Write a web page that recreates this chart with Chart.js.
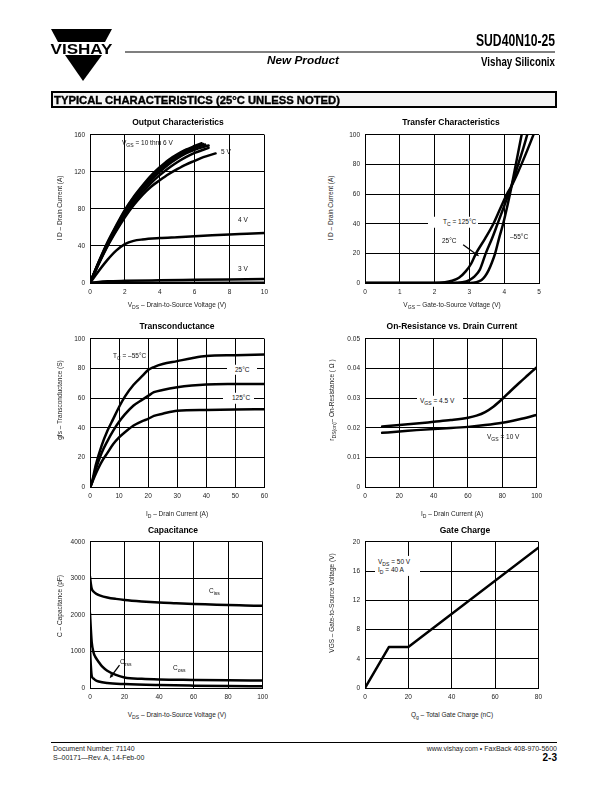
<!DOCTYPE html>
<html><head><meta charset="utf-8">
<script src="https://cdn.jsdelivr.net/npm/chart.js@4.4.0/dist/chart.umd.min.js"></script>
<style>
html,body{margin:0;padding:0;background:#fff;}
#page{position:relative;width:612px;height:792px;overflow:hidden;font-family:"Liberation Sans",Arial,Helvetica,sans-serif;color:#000;}
canvas{position:absolute;z-index:1;}
.abs{position:absolute;white-space:nowrap;z-index:2;line-height:1;}
.ttl{font-weight:bold;font-size:8.5px;transform:translate(-50%,-50%);}
.xt{font-size:6.5px;color:#222;transform:translate(-50%,-50%);}
.yt{font-size:6.5px;color:#222;transform:translate(-50%,-50%) rotate(-90deg);}
.lbl{font-size:6.5px;color:#111;transform:translateY(-50%);}
.box{background:#fff;}
sub{font-size:0.78em;vertical-align:-0.35em;line-height:0;}
</style></head>
<body><div id="page"></div>
<script>
// ---------- DATA ----------
// Output characteristics (VDS in V, ID in A)
const out10V_x=[0,0.5,1,1.5,2,2.5,3,3.5,4,4.5,5,5.5,6,6.4];
const out10V_y=[0,23,44,62,79,93,105,116,125,133,139,144,148,151];
const out9V_x=[0,0.5,1,1.5,2,2.5,3,3.5,4,4.5,5,5.5,6,6.5];
const out9V_y=[0,22.5,43,61,78,92,104,114.5,123.5,131.5,138,143.5,147,150];
const out8V_x=[0,0.5,1,1.5,2,2.5,3,3.5,4,4.5,5,5.5,6,6.6];
const out8V_y=[0,22,42,60,77,91,102.5,113,122,130,136.5,142,146,149.5];
const out7V_x=[0,0.5,1,1.5,2,2.5,3,3.5,4,4.5,5,5.5,6,6.8];
const out7V_y=[0,21.5,41,59,75,89,101,111,120,128,134.5,140,144,148.5];
const out6V_x=[0,0.5,1,1.5,2,2.5,3,3.5,4,4.5,5,5.5,6,6.8];
const out6V_y=[0,21,40.5,57.5,73,86.5,98,108,116.5,124,130.5,136,140.5,146];
const out5V_x=[0,0.5,1,1.5,2,2.5,3,3.5,4,4.5,5,5.5,6,6.5,7.2];
const out5V_y=[0,20.5,39.5,56,71,84,95,104,111,117.5,123,128,132,136,140];
const out4V_x=[0,0.5,1,1.5,2,2.5,3,4,5,6,7,8,9,10];
const out4V_y=[0,13,25,35,42,45.5,47,48.5,49.5,50.5,51.5,52.5,53.2,54];
const out3V_x=[0,0.5,1,2,4,6,8,10];
const out3V_y=[0,1.2,1.8,2.3,2.9,3.4,3.9,4.4];
const out2V_x=[0,10];
const out2V_y=[0,0.3];
const outTicksX={min:0,max:10,step:2}, outTicksY={min:0,max:160,step:40};

// Transfer characteristics (VGS in V, ID in A)
const trN55_x=[0,3.0,3.2,3.35,3.45,3.55,3.65,3.74,3.85,3.97,4.1,4.2,4.3,4.4,4.5];
const trN55_y=[0,0,0.5,2,4.5,8.5,14,20,30,40,53,64,76,88,100];
const tr25_x=[0,2.5,2.8,3.0,3.15,3.3,3.47,3.65,3.81,4.0,4.2,4.4,4.55,4.66];
const tr25_y=[0,0,0.5,2,4.5,9,20,30,40,52,65,80,91,100];
const tr125_x=[0,2.0,2.3,2.5,2.7,2.9,3.05,3.19,3.45,3.69,3.9,4.1,4.2,4.4,4.6,4.84];
const tr125_y=[0,0,0.5,1.5,3.5,8,13,20,30,40,51,61,65,75,86,100];
const trTicksX={min:0,max:5,step:1}, trTicksY={min:0,max:100,step:20};
const trArrow=[2.82,25.8,3.28,18];

// Transconductance (ID in A, gfs in S)
const gfsN55_x=[0,0.5,2,4,6,8,10,12,15,18,20,22,25,30,35,40,50,60];
const gfsN55_y=[0,2,15,28,38,46,54,61,69,75,79,81,83,85,87,88.5,89,89.5];
const gfs25_x=[0,0.5,2,4,6,8,10,12,15,18,20,22,25,30,35,40,50,60];
const gfs25_y=[0,2,12,23,31,38,44,49,55,59,61.5,64,65.5,67.3,68.5,69.2,69.5,69.6];
const gfs125_x=[0,0.5,2,4,6,8,10,12,15,18,20,22,25,30,40,50,60];
const gfs125_y=[0,2,9,17,23,29,33.5,37,41.5,44.5,46,48,49.5,51.5,52,52.3,52.5];
const gfsTicksX={min:0,max:60,step:10}, gfsTicksY={min:0,max:100,step:20};

// On-resistance (ID in A, rDS(on) in ohm)
const ron45_x=[10,20,30,40,50,60,65,70,75,80,85,90,95,100];
const ron45_y=[0.0204,0.0209,0.0214,0.0220,0.0226,0.0234,0.0241,0.0253,0.0272,0.0297,0.0325,0.0352,0.0378,0.0404];
const ron10_x=[10,20,30,40,50,60,70,80,90,100];
const ron10_y=[0.0183,0.0187,0.0192,0.0196,0.0199,0.0203,0.0209,0.0217,0.0229,0.0243];
const ronTicksX={min:0,max:100,step:20}, ronTicksY={min:0,max:0.05,step:0.01};

// Capacitance (VDS in V, C in pF)
const ciss_x=[0,0.5,1,2,4,6,10,15,20,30,40,50,60,70,80,90,100];
const ciss_y=[3050,2850,2720,2640,2570,2530,2480,2440,2410,2370,2340,2320,2300,2285,2270,2260,2250];
const coss_x=[0,0.5,1,2,3,5,7,10,15,20,30,40,60,80,100];
const coss_y=[2050,1600,1250,980,860,714,590,473,360,290,250,232,220,210,205];
const crss_x=[0,0.5,1,2,3,5,10,20,40,60,80,100];
const crss_y=[1050,600,330,260,220,178,135,107,80,65,55,48];
const capTicksX={min:0,max:100,step:20}, capTicksY={min:0,max:4000,step:1000};
const capArrow=[17.1,624,11.4,268];

// Gate charge (Qg in nC, VGS in V)
const gate_x=[0,11,20,80];
const gate_y=[0,5.6,5.6,19.2];
const gateTicksX={min:0,max:80,step:20}, gateTicksY={min:0,max:20,step:4};

// ---------- RENDER ----------
const FF='"Liberation Sans", Arial, sans-serif';
const page=document.getElementById('page');
function pts(xs,ys){return xs.map((x,i)=>({x:x,y:ys[i]}));}
function ln(xs,ys,mono){return {data:pts(xs,ys),borderColor:'#000',borderWidth:2.5,pointRadius:0,fill:false,
  cubicInterpolationMode:mono===false?'default':'monotone',tension:mono===false?0:0.4,borderCapStyle:'round',borderJoinStyle:'round'};}

const arrowPlugin={id:'arrows',afterDatasetsDraw(chart,args,opts){
  const list=opts.list||[];const ctx=chart.ctx;const sx=chart.scales.x,sy=chart.scales.y;
  list.forEach(a=>{
    const x1=sx.getPixelForValue(a[0]),y1=sy.getPixelForValue(a[1]),x2=sx.getPixelForValue(a[2]),y2=sy.getPixelForValue(a[3]);
    const ang=Math.atan2(y2-y1,x2-x1),h=4.5;
    ctx.save();ctx.strokeStyle='#000';ctx.fillStyle='#000';ctx.lineWidth=1.3;
    ctx.beginPath();ctx.moveTo(x1,y1);ctx.lineTo(x2-Math.cos(ang)*h*0.8,y2-Math.sin(ang)*h*0.8);ctx.stroke();
    ctx.beginPath();ctx.moveTo(x2,y2);
    ctx.lineTo(x2-h*Math.cos(ang-0.4),y2-h*Math.sin(ang-0.4));
    ctx.lineTo(x2-h*Math.cos(ang+0.4),y2-h*Math.sin(ang+0.4));ctx.closePath();ctx.fill();
    ctx.restore();
  });
}};

function axisOpts(t,fmt,isY){
  return {type:'linear',min:t.min,max:t.max,
    ticks:{stepSize:t.step,autoSkip:false,maxRotation:0,padding:5,color:'#222',font:{family:FF,size:6.5},callback:fmt||(v=>String(v))},
    grid:{color:'#000',lineWidth:1,drawTicks:false},
    border:{display:true,color:'#000',width:1},
    afterFit:isY?(s=>{s.width=30;}):(s=>{s.height=18;})};
}
function makeChart(r,tx,ty,datasets,arrows,yfmt){
  const c=document.createElement('canvas');
  const W=r.R-r.L+38,H=r.B-r.T+24;
  c.width=W;c.height=H;c.style.width=W+'px';c.style.height=H+'px';
  c.style.left=(r.L-30)+'px';c.style.top=(r.T-6)+'px';
  page.appendChild(c);
  new Chart(c,{type:'line',data:{datasets:datasets},
    options:{responsive:false,animation:false,devicePixelRatio:1,
      layout:{padding:{top:6,right:8,left:0,bottom:0}},
      plugins:{legend:{display:false},tooltip:{enabled:false},title:{display:false},arrows:{list:arrows||[]}},
      scales:{x:axisOpts(tx,null,false),y:axisOpts(ty,yfmt,true)}},
    plugins:[arrowPlugin]});
}
function txt(cls,html,x,y,extra){
  const d=document.createElement('div');d.className='abs '+cls;d.innerHTML=html;
  d.style.left=x+'px';d.style.top=y+'px';if(extra)d.style.cssText+=extra;page.appendChild(d);return d;
}

// Chart 1
makeChart({L:90,T:132,R:265,B:283},outTicksX,outTicksY,[
  ln(out10V_x,out10V_y),ln(out9V_x,out9V_y),ln(out8V_x,out8V_y),ln(out7V_x,out7V_y),ln(out6V_x,out6V_y),
  ln(out5V_x,out5V_y),ln(out4V_x,out4V_y),ln(out3V_x,out3V_y),ln(out2V_x,out2V_y)]);
// Chart 2
makeChart({L:365,T:132,R:539,B:283},trTicksX,trTicksY,[ln(trN55_x,trN55_y),ln(tr25_x,tr25_y),ln(tr125_x,tr125_y)],[trArrow]);
// Chart 3
makeChart({L:90,T:336,R:265,B:487},gfsTicksX,gfsTicksY,[ln(gfsN55_x,gfsN55_y),ln(gfs25_x,gfs25_y),ln(gfs125_x,gfs125_y)]);
// Chart 4
makeChart({L:365,T:336,R:539,B:487},ronTicksX,ronTicksY,[ln(ron45_x,ron45_y),ln(ron10_x,ron10_y)],[],v=>v===0?'0':v.toFixed(2));
// Chart 5
makeChart({L:90,T:539,R:265,B:688},capTicksX,capTicksY,[ln(ciss_x,ciss_y),ln(coss_x,coss_y),ln(crss_x,crss_y)],[capArrow]);
// Chart 6
makeChart({L:365,T:539,R:539,B:688},gateTicksX,gateTicksY,[ln(gate_x,gate_y,false)]);

// Titles
txt('ttl','Output Characteristics',178,121.5);
txt('ttl','Transfer Characteristics',451,121.5);
txt('ttl','Transconductance',177,326);
txt('ttl','On-Resistance vs. Drain Current',452,326);
txt('ttl','Capacitance',173,530);
txt('ttl','Gate Charge',465,529.5);
// Axis titles
txt('yt','I D – Drain Current (A)',60,208);
txt('yt','I D – Drain Current (A)',331,208);
txt('yt','gfs – Transconductance (S)',60,400);
txt('yt','r<sub>DS(on)</sub>– On-Resistance ( Ω )',332,400);
txt('yt','C – Capacitance (pF)',60,606);
txt('yt','VGS – Gate-to-Source Voltage (V)',332,603);
txt('xt','V<sub>DS</sub> – Drain-to-Source Voltage (V)',177,305);
txt('xt','V<sub>GS</sub> – Gate-to-Source Voltage (V)',452,305);
txt('xt','I<sub>D</sub> – Drain Current (A)',177,514);
txt('xt','I<sub>D</sub> – Drain Current (A)',452,514);
txt('xt','V<sub>DS</sub> – Drain-to-Source Voltage (V)',177,715);
txt('xt','Q<sub>g</sub> – Total Gate Charge (nC)',452,715);
// Annotations
txt('lbl','V<sub>GS</sub> = 10 thru 6 V',122,143);
txt('lbl','5 V',221,151.5);
txt('lbl','4 V',238,220);
txt('lbl','3 V',238,269);
txt('lbl box','T<sub>C</sub> = 125°C',428,222,'padding:2px 2px 2px 15px;');
txt('lbl','25°C',442,241);
txt('lbl','–55°C',510,237);
txt('lbl','T<sub>C</sub> = –55°C',113,355.5);
txt('lbl box','25°C',227,369.5,'padding:2px 7px 2px 8px;');
txt('lbl box','125°C',223,398,'padding:2px 4px 2px 9px;');
txt('lbl box','V<sub>GS</sub> = 4.5 V',417,401,'padding:2px 9px 2px 3px;');
txt('lbl','V<sub>GS</sub> = 10 V',487,437);
txt('lbl','C<sub>iss</sub>',209,591);
txt('lbl','C<sub>oss</sub>',173,668);
txt('lbl','C<sub>rss</sub>',120,662);
txt('lbl box','V<sub>DS</sub> = 50 V<br>I<sub>D</sub> = 40 A',375,566,'padding:2px 10px 3px 3px;line-height:7.6px;');

// Header
const hdr=document.createElement('div');
hdr.innerHTML='<svg width="612" height="120" style="position:absolute;left:0;top:0;z-index:2" xmlns="http://www.w3.org/2000/svg">'+
 '<polygon points="51,29 112,29 105,42 58,42" fill="#000"/>'+
 '<polygon points="65,55 102,55 83,81" fill="#000"/>'+
 '<text x="81.5" y="53.5" text-anchor="middle" font-family="Liberation Sans, Arial" font-weight="bold" font-size="14.5" textLength="62" lengthAdjust="spacingAndGlyphs">VISHAY</text>'+
 '<line x1="125" y1="52" x2="555" y2="52" stroke="#000" stroke-width="1.2"/>'+
 '<text x="555" y="46" text-anchor="end" font-family="Liberation Sans, Arial" font-weight="bold" font-size="16" textLength="79" lengthAdjust="spacingAndGlyphs">SUD40N10-25</text>'+
 '<text x="555" y="65.5" text-anchor="end" font-family="Liberation Sans, Arial" font-weight="bold" font-size="13.5" textLength="74" lengthAdjust="spacingAndGlyphs">Vishay Siliconix</text>'+
 '<text x="303" y="64" text-anchor="middle" font-family="Liberation Sans, Arial" font-weight="bold" font-style="italic" font-size="11.5" textLength="72" lengthAdjust="spacingAndGlyphs">New Product</text>'+
 '<rect x="52" y="92" width="504" height="15" fill="#f4f4f4" stroke="#000" stroke-width="2"/>'+
 '<text x="54" y="103.5" font-family="Liberation Sans, Arial" font-weight="bold" font-size="10.5" stroke="#000" stroke-width="0.35" textLength="286" lengthAdjust="spacingAndGlyphs">TYPICAL CHARACTERISTICS (25°C UNLESS NOTED)</text>'+
 '</svg>';
page.appendChild(hdr);
// Footer
const ftr=document.createElement('div');
ftr.innerHTML='<svg width="612" height="792" style="position:absolute;left:0;top:0;z-index:0" xmlns="http://www.w3.org/2000/svg">'+
 '<line x1="51" y1="742.5" x2="557" y2="742.5" stroke="#000" stroke-width="1"/>'+
 '<text x="53" y="750.5" font-family="Liberation Sans, Arial" font-size="7" fill="#222">Document Number:  71140</text>'+
 '<text x="53" y="759.5" font-family="Liberation Sans, Arial" font-size="7" fill="#222">S–00171—Rev. A, 14-Feb-00</text>'+
 '<text x="557" y="750.5" text-anchor="end" font-family="Liberation Sans, Arial" font-size="7" fill="#222">www.vishay.com • FaxBack 408-970-5600</text>'+
 '<text x="557" y="760.5" text-anchor="end" font-family="Liberation Sans, Arial" font-weight="bold" font-size="10">2-3</text>'+
 '</svg>';
page.appendChild(ftr);
</script></body></html>
